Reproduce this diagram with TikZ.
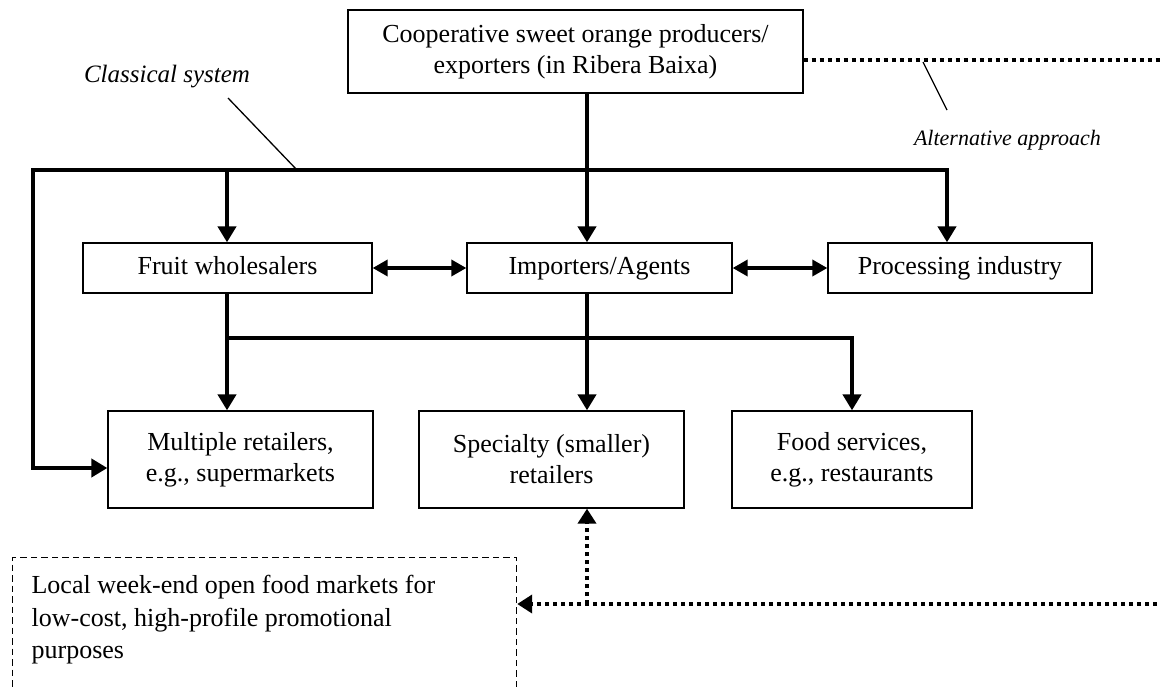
\documentclass[tikz,border=0pt]{standalone}
\usepackage{fontspec}
\setmainfont{Liberation Serif}
\usetikzlibrary{arrows.meta,calc}
\begin{document}
\begin{tikzpicture}[x=1pt,y=-1pt,
  box/.style={draw, line width=1.3pt, rectangle, inner sep=0pt, align=center, font=\fontsize{26}{31}\selectfont},
  onebox/.style={box, text height=18pt, text depth=6pt},
  thickline/.style={line width=4pt},
  arr/.style={line width=4pt, -{Triangle[width=18pt,length=16pt]}},
  darr/.style={line width=3.5pt, {Triangle[width=16pt,length=15pt]}-{Triangle[width=16pt,length=15pt]}},
  dotline/.style={line width=4pt, dash pattern=on 4.5pt off 3.5pt},
  dotarr/.style={dotline, -{Triangle[width=18pt,length=15pt]}},
  lbl/.style={font=\fontsize{25}{30}\selectfont\itshape, inner sep=0pt},
  leader/.style={line width=1.3pt},
  localbox/.style={draw, line width=1.2pt, dash pattern=on 6.5pt off 4pt, anchor=north west, inner xsep=19pt, inner ysep=18pt}]
\clip (0,0) rectangle (1160,686);

% nodes
\node[box, minimum width=455pt, minimum height=83pt] (prod) at (575.5,51.5) {Cooperative sweet orange producers/\\exporters (in Ribera Baixa)};
\node[onebox, minimum width=289pt, minimum height=50pt] (fruit) at (227.5,268) {Fruit wholesalers};
\node[onebox, minimum width=265pt, minimum height=50pt] (imp) at (599.5,268) {Importers/Agents};
\node[onebox, minimum width=264pt, minimum height=50pt] (proc) at (960,268) {Processing industry};
\node[box, minimum width=265pt, minimum height=97pt] (mult) at (240.5,459.5) {Multiple retailers,\\e.g., supermarkets};
\node[box, minimum width=265pt, minimum height=97pt] (spec) at (551.5,459.5) {Specialty (smaller)\\retailers};
\node[box, minimum width=240pt, minimum height=97pt] (food) at (852,459.5) {Food services,\\e.g., restaurants};
\node[localbox] (local) at (12,557) {\parbox[t][125pt][t]{466pt}{\fontsize{26}{32.5}\selectfont\raggedright Local week-end open food markets for\\low-cost, high-profile promotional\\purposes}};

\node[lbl] (cls) at (167,77) {Classical system};
\node[lbl, font=\fontsize{22}{26}\selectfont\itshape, anchor=east] (alt) at (1101,140) {Alternative approach};

% coordinates
\coordinate (vx) at (587,170);
\coordinate (lc) at (33,170);
\coordinate (rc) at (947,170);
\coordinate (lb) at (33,468);
\coordinate (bj) at (227,338);
\coordinate (bc) at (852,338);
\coordinate (tr) at (1165,60);
\coordinate (br) at (1165,604);
\coordinate (bj2) at (587,604);
\coordinate (c1) at (228,98);
\coordinate (c2) at (297,170);
\coordinate (a1) at (923,62);
\coordinate (a2) at (947,110);

% classical system
\draw[arr] (prod.south -| vx) -- (imp.north -| vx);
\draw[arr] (lc) -- (rc) -- (proc.north -| rc);
\draw[arr] (rc) -- (lc) -- (lb) -- (lb -| mult.west);
\draw[arr] (lc -| bj) -- (fruit.north -| bj);
\draw[darr] (fruit.east) -- (imp.west);
\draw[darr] (imp.east) -- (proc.west);
\draw[arr] (fruit.south -| bj) -- (mult.north -| bj);
\draw[arr] (bj) -- (bc) -- (food.north);
\draw[arr] (imp.south -| vx) -- (spec.north -| vx);

% alternative approach
\draw[dotline] (prod.east |- tr) -- (tr);
\draw[dotarr] (br) -- (local.east |- br);
\draw[dotarr] (bj2) -- (spec.south -| bj2);

% leaders
\draw[leader] (c1) -- (c2);
\draw[leader] (a1) -- (a2);
\end{tikzpicture}
\end{document}
